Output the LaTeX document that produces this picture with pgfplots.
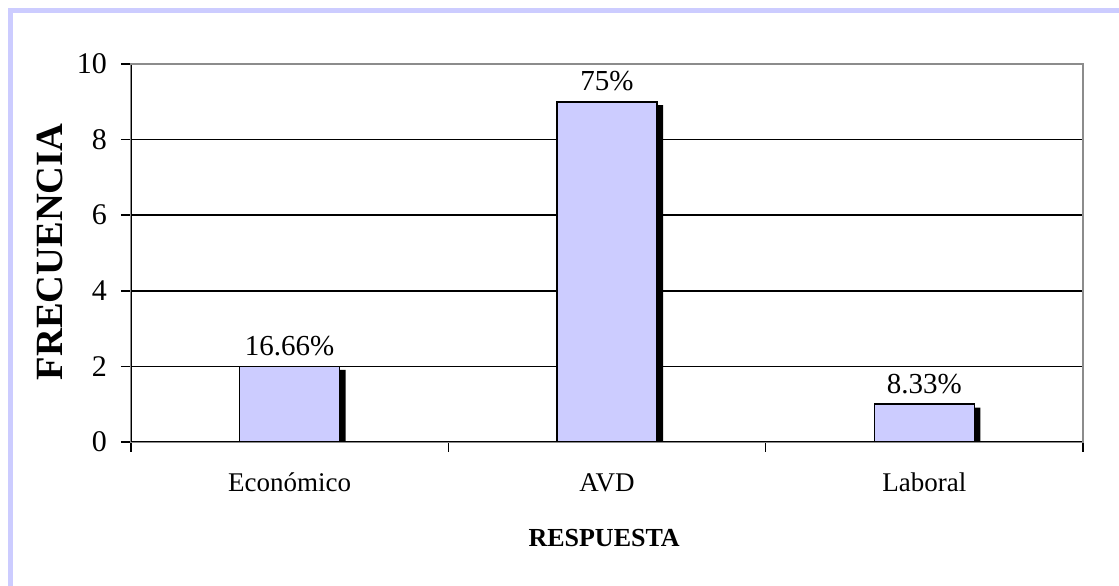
\documentclass[border=0pt]{standalone}
\usepackage{fontspec}
\setmainfont{Liberation Serif}
\usepackage{pgfplots}
\usepackage{pgfplotstable}
\pgfplotsset{compat=1.18}
\definecolor{lav}{HTML}{CCCCFF}
\definecolor{axgray}{HTML}{8C8C8C}
\pgfplotstableread{
x v lab
0 2 16.66\%
1 9 75\%
2 1 8.33\%
}\datatab
\begin{document}
\begin{tikzpicture}[x=1pt,y=1pt]
\useasboundingbox (0,0) rectangle (1119,586);
\fill[white] (0,0) rectangle (1119,586);
\draw[lav,line width=5pt] (10.5,0) -- (10.5,575) -- (1119,575);
\begin{axis}[
  at={(131pt,144pt)}, anchor=south west,
  width=952pt, height=378pt, scale only axis,
  xmin=-0.5, xmax=2.5, ymin=0, ymax=10,
  ybar, bar width=100pt,
  ytick={0,2,4,6,8,10},
  xtick={-0.5,0.5,1.5,2.5}, xticklabels={},
  extra x ticks={0,1,2},
  extra x tick labels={Económico,AVD,Laboral},
  extra x tick style={major tick length=0pt, grid=none},
  tick align=outside,
  major tick length=10pt,
  xtick pos=bottom, ytick pos=left,
  tick style={black, line width=1.5pt},
  ymajorgrids, grid style={black, line width=1.5pt},
  axis line style={axgray, line width=2pt},
  /pgf/number format/assume math mode=true,
  yticklabel style={font=\fontsize{30}{30}\selectfont, anchor=east, inner sep=0pt, xshift=-14pt},
  xticklabel style={font=\fontsize{27}{27}\selectfont, anchor=north, inner sep=0pt, yshift=-31pt},
  ylabel={\textbf{FRECUENCIA}},
  ylabel style={font=\fontsize{38.5}{38.5}\selectfont, at={(axis description cs:-0.085,0.503)}, anchor=center, rotate=0},
  xlabel={\textbf{RESPUESTA}},
  xlabel style={font=\fontsize{26}{26}\selectfont, at={(axis description cs:0.497,-0.254)}, anchor=center},
]
\addplot[fill=black, draw=none, bar shift=6pt] table[x=x, y expr=\thisrow{v}-0.09] {\datatab};
\addplot[fill=lav, draw=black, line width=1.5pt, bar shift=0pt,
  nodes near coords, point meta=explicit symbolic,
  every node near coord/.append style={anchor=south, inner sep=0pt, yshift=10pt, font=\fontsize{29}{29}\selectfont}]
  table[x=x, y=v, meta=lab] {\datatab};
\draw[black, line width=2pt] (rel axis cs:0,0) -- (rel axis cs:0,1);
\draw[black, line width=2pt] (rel axis cs:0,0) -- (rel axis cs:1,0);
\draw[axgray, line width=2pt] (rel axis cs:0,1) -- (rel axis cs:1,1) -- (rel axis cs:1,0);
\end{axis}
\end{tikzpicture}
\end{document}
